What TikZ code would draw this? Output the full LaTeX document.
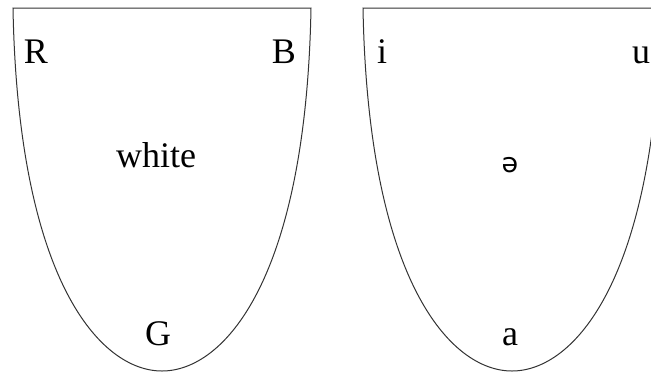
\documentclass[tikz,border=0pt]{standalone}
\usepackage{fontspec}
\setmainfont{Liberation Serif}
\newfontfamily\schwafont{DejaVu Sans}
\begin{document}
\begin{tikzpicture}[x=1pt,y=-1pt,
  cup/.style={draw=black!80,line width=1pt},
  lbl/.style={anchor=base,inner sep=0pt,font=\fontsize{36}{40}\selectfont}]
\useasboundingbox (0,0) rectangle (651,373);
\begin{scope}
\clip (0,0) rectangle (651,373);
% left cup
\draw[cup] (13,8) -- (311,8)
  .. controls (306,280) and (224,371) .. (162,371)
  .. controls (100,371) and (18,280) .. (13,8) -- cycle;
% right cup
\begin{scope}[xshift=350pt]
\draw[cup] (13,8) -- (311,8)
  .. controls (306,280) and (224,371) .. (162,371)
  .. controls (100,371) and (18,280) .. (13,8) -- cycle;
\end{scope}
\end{scope}
\node[lbl] (R) at (36,63) {R};
\node[lbl] (B) at (284,63) {B};
\node[lbl] (white) at (156,167) {white};
\node[lbl] (G) at (158,345) {G};
\node[lbl] (i) at (382,63) {i};
\node[lbl] (u) at (641,63) {u};
\node[anchor=base,inner sep=0pt,font=\schwafont\fontsize{27}{30}\selectfont] (schwa) at (510,172) {ə};
\node[lbl] (a) at (510,345) {a};
\end{tikzpicture}
\end{document}
